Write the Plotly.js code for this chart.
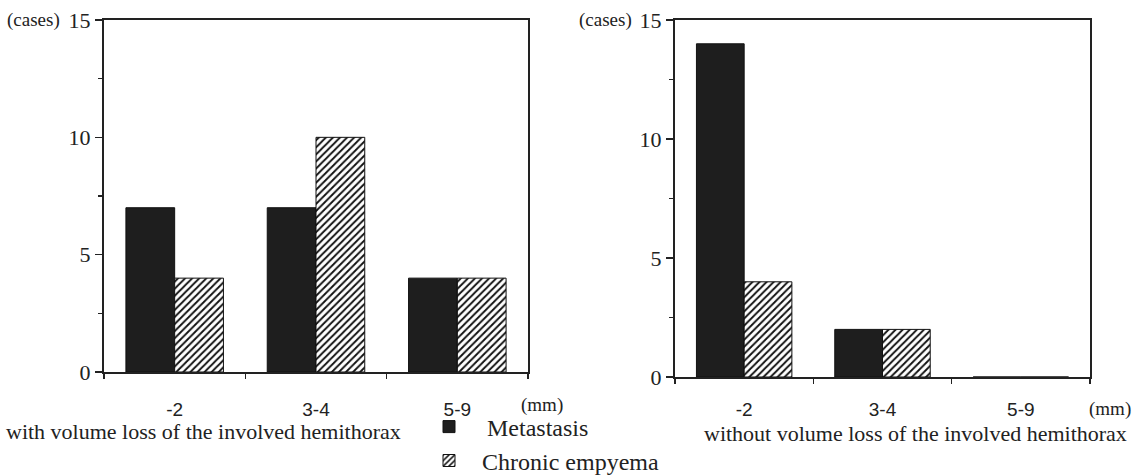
<!DOCTYPE html>
<html>
<head>
<meta charset="utf-8">
<script src="https://cdn.plot.ly/plotly-3.0.1.min.js"></script>
<style>html,body{margin:0;padding:0;background:#fff}#chart{width:1136px;height:475px}</style>
</head>
<body>
<div id="chart"></div>
<script>
const categories = ['-2', '3-4', '5-9'];
const withLossMetastasis = [7, 7, 4];
const withLossEmpyema = [4, 10, 4];
const withoutLossMetastasis = [14, 2, 0];
const withoutLossEmpyema = [4, 2, 0];
const yTickVals = [0, 5, 10, 15];
const seriesNames = ['Metastasis', 'Chronic empyema'];
const panelTitles = ['with volume loss of the involved hemithorax', 'without volume loss of the involved hemithorax'];

const W = 1136, H = 475;
const px = v => v / W;
const py = v => 1 - v / H;

const serif = 'Liberation Serif, Times New Roman, serif';
const sans = 'Liberation Sans, Arial, sans-serif';

const solid = {color: '#1e1e1e', line: {color: '#111', width: 1}};
const hatch = {color: '#ffffff', line: {color: '#111', width: 1},
  pattern: {shape: '/', fgcolor: '#111', bgcolor: '#ffffff', size: 5, solidity: 0.38}};

const traces = [
  {type: 'bar', x: categories, y: withLossMetastasis, name: '\u00a0\u00a0\u00a0' + seriesNames[0], marker: solid, xaxis: 'x', yaxis: 'y', legend: 'legend', showlegend: true},
  {type: 'bar', x: categories, y: withLossEmpyema, name: '\u00a0', marker: hatch, xaxis: 'x', yaxis: 'y', legend: 'legend2', showlegend: true},
  {type: 'bar', x: categories, y: withoutLossMetastasis, name: seriesNames[0], marker: solid, xaxis: 'x2', yaxis: 'y2', showlegend: false},
  {type: 'bar', x: categories, y: withoutLossEmpyema, name: seriesNames[1], marker: hatch, xaxis: 'x2', yaxis: 'y2', showlegend: false}
];

function xax(domain, standoff) {
  return {domain: domain, type: 'category', range: [-0.5, 2.5], showline: true, linecolor: '#222', linewidth: 2,
    mirror: true, ticks: 'outside', tickson: 'boundaries', ticklen: 5, tickcolor: '#222', tickwidth: 1.5,
    showgrid: false, zeroline: false, tickfont: {family: sans, size: 19, color: '#222'}, ticklabelstandoff: standoff, automargin: false, fixedrange: true};
}
function yax(domain, anchor) {
  return {domain: domain, anchor: anchor, range: [0, 15], tickvals: yTickVals, showline: true, linecolor: '#222', linewidth: 2,
    mirror: true, ticks: 'outside', ticklen: 7, tickcolor: '#222', tickwidth: 1.5, showgrid: false, zeroline: false,
    minor: {dtick: 2.5, ticks: 'outside', ticklen: 4, tickcolor: '#222', tickwidth: 1.2, showgrid: false},
    tickfont: {family: serif, size: 22, color: '#222'}, automargin: false, fixedrange: true};
}

function note(text, x, y, size, xanchor) {
  return {text: text, xref: 'paper', yref: 'paper', x: px(x), y: py(y), xanchor: xanchor || 'center', yanchor: 'middle',
    showarrow: false, font: {family: serif, size: size, color: '#222'}};
}

const layout = {
  width: W, height: H,
  margin: {l: 0, r: 0, t: 0, b: 0},
  paper_bgcolor: '#fff', plot_bgcolor: '#fff',
  barmode: 'group', bargap: 0.31, bargroupgap: 0,
  xaxis: Object.assign(xax([px(104), px(528)], 19), {anchor: 'y'}),
  yaxis: yax([py(372), py(20)], 'x'),
  xaxis2: Object.assign(xax([px(675), px(1090)], 14), {anchor: 'y2'}),
  yaxis2: yax([py(377), py(20)], 'x2'),
  legend: {x: px(429), y: py(427), xanchor: 'left', yanchor: 'middle', bgcolor: 'rgba(0,0,0,0)',
    font: {family: serif, size: 24, color: '#222'}},
  legend2: {x: px(429), y: 0, xanchor: 'left', yanchor: 'bottom', bgcolor: 'rgba(0,0,0,0)',
    font: {family: serif, size: 8, color: '#222'}},
  annotations: [
    note('(cases)', 33, 20, 19),
    note('(cases)', 605, 20, 19),
    note('(mm)', 542, 405, 19),
    note('(mm)', 1110, 409, 19),
    note(panelTitles[0], 203, 431, 22),
    note(panelTitles[1], 915, 433, 22),
    note(seriesNames[1], 480, 462, 24, 'left')
  ]
};

Plotly.newPlot('chart', traces, layout, {displayModeBar: false, staticPlot: true});
</script>
</body>
</html>
